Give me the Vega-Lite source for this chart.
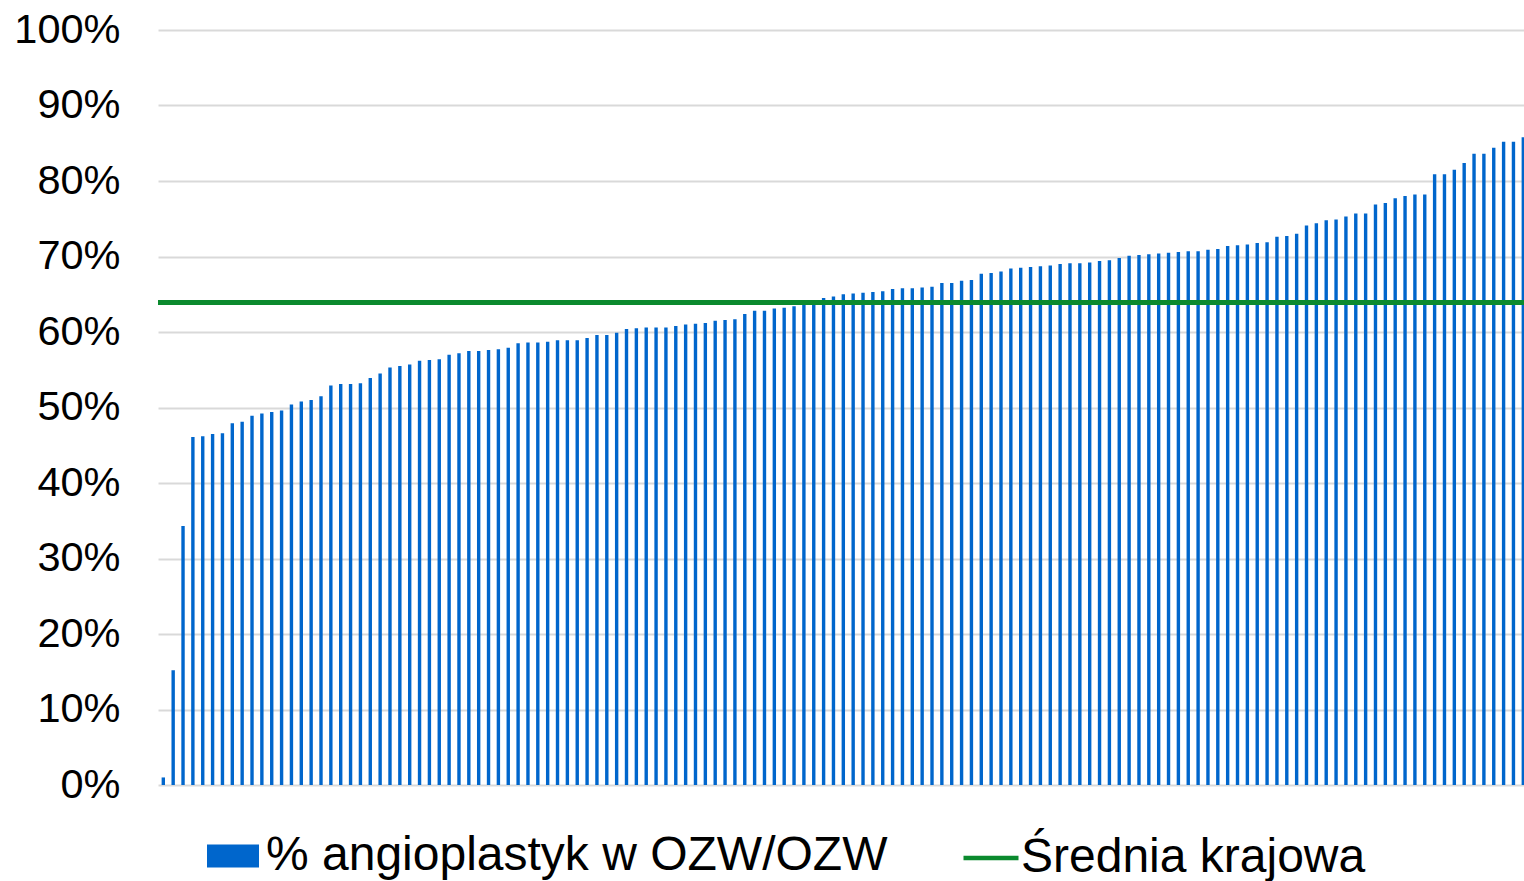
{
  "$schema": "https://vega.github.io/schema/vega-lite/v6.json",
  "width": 1366,
  "height": 755,
  "autosize": {"type": "none"},
  "padding": {"left": 158, "top": 30, "right": 0, "bottom": 96},
  "background": "white",
  "config": {
    "view": {"stroke": null},
    "font": "Liberation Sans"
  },
  "datasets": {
    "bars": [
      {"i":0,"v":0.010},{"i":1,"v":0.152},{"i":2,"v":0.343},{"i":3,"v":0.461},{"i":4,"v":0.462},{"i":5,"v":0.465},{"i":6,"v":0.466},{"i":7,"v":0.479},{"i":8,"v":0.481},{"i":9,"v":0.489},
      {"i":10,"v":0.492},{"i":11,"v":0.494},{"i":12,"v":0.496},{"i":13,"v":0.504},{"i":14,"v":0.508},{"i":15,"v":0.510},{"i":16,"v":0.515},{"i":17,"v":0.529},{"i":18,"v":0.531},{"i":19,"v":0.531},
      {"i":20,"v":0.532},{"i":21,"v":0.539},{"i":22,"v":0.545},{"i":23,"v":0.553},{"i":24,"v":0.555},{"i":25,"v":0.557},{"i":26,"v":0.562},{"i":27,"v":0.563},{"i":28,"v":0.564},{"i":29,"v":0.570},
      {"i":30,"v":0.572},{"i":31,"v":0.575},{"i":32,"v":0.575},{"i":33,"v":0.576},{"i":34,"v":0.577},{"i":35,"v":0.579},{"i":36,"v":0.585},{"i":37,"v":0.586},{"i":38,"v":0.586},{"i":39,"v":0.587},
      {"i":40,"v":0.589},{"i":41,"v":0.589},{"i":42,"v":0.589},{"i":43,"v":0.592},{"i":44,"v":0.596},{"i":45,"v":0.596},{"i":46,"v":0.599},{"i":47,"v":0.604},{"i":48,"v":0.605},{"i":49,"v":0.606},
      {"i":50,"v":0.606},{"i":51,"v":0.606},{"i":52,"v":0.608},{"i":53,"v":0.610},{"i":54,"v":0.611},{"i":55,"v":0.612},{"i":56,"v":0.615},{"i":57,"v":0.616},{"i":58,"v":0.617},{"i":59,"v":0.624},
      {"i":60,"v":0.628},{"i":61,"v":0.628},{"i":62,"v":0.631},{"i":63,"v":0.632},{"i":64,"v":0.634},{"i":65,"v":0.636},{"i":66,"v":0.640},{"i":67,"v":0.645},{"i":68,"v":0.647},{"i":69,"v":0.650},
      {"i":70,"v":0.651},{"i":71,"v":0.652},{"i":72,"v":0.653},{"i":73,"v":0.654},{"i":74,"v":0.657},{"i":75,"v":0.658},{"i":76,"v":0.658},{"i":77,"v":0.659},{"i":78,"v":0.660},{"i":79,"v":0.665},
      {"i":80,"v":0.665},{"i":81,"v":0.668},{"i":82,"v":0.669},{"i":83,"v":0.677},{"i":84,"v":0.678},{"i":85,"v":0.680},{"i":86,"v":0.684},{"i":87,"v":0.685},{"i":88,"v":0.686},{"i":89,"v":0.687},
      {"i":90,"v":0.688},{"i":91,"v":0.690},{"i":92,"v":0.691},{"i":93,"v":0.691},{"i":94,"v":0.692},{"i":95,"v":0.694},{"i":96,"v":0.695},{"i":97,"v":0.698},{"i":98,"v":0.701},{"i":99,"v":0.702},
      {"i":100,"v":0.703},{"i":101,"v":0.704},{"i":102,"v":0.705},{"i":103,"v":0.706},{"i":104,"v":0.707},{"i":105,"v":0.707},{"i":106,"v":0.709},{"i":107,"v":0.710},{"i":108,"v":0.714},{"i":109,"v":0.715},
      {"i":110,"v":0.716},{"i":111,"v":0.718},{"i":112,"v":0.719},{"i":113,"v":0.726},{"i":114,"v":0.727},{"i":115,"v":0.730},{"i":116,"v":0.741},{"i":117,"v":0.744},{"i":118,"v":0.748},{"i":119,"v":0.749},
      {"i":120,"v":0.753},{"i":121,"v":0.757},{"i":122,"v":0.757},{"i":123,"v":0.769},{"i":124,"v":0.771},{"i":125,"v":0.777},{"i":126,"v":0.780},{"i":127,"v":0.782},{"i":128,"v":0.782},{"i":129,"v":0.809},
      {"i":130,"v":0.809},{"i":131,"v":0.815},{"i":132,"v":0.824},{"i":133,"v":0.836},{"i":134,"v":0.836},{"i":135,"v":0.844},{"i":136,"v":0.852},{"i":137,"v":0.852},{"i":138,"v":0.858}
    ],
    "avg": [{"avg": 0.639}]
  },
  "layer": [
    {
      "data": {"name": "bars"},
      "mark": {"type": "bar", "orient": "vertical", "width": 3.4, "clip": true},
      "encoding": {
        "x": {"field": "i", "type": "quantitative", "axis": null,
              "scale": {"domain": [-0.54, 138.07], "nice": false, "zero": false, "padding": 0}},
        "y": {"field": "v", "type": "quantitative",
              "scale": {"domain": [0, 1], "nice": false},
              "axis": {"format": ".0%", "values": [0,0.1,0.2,0.3,0.4,0.5,0.6,0.7,0.8,0.9,1],
                       "title": null, "domain": false, "ticks": false,
                       "labelFontSize": 41.5, "labelColor": "#000000", "labelPadding": 38,
                       "labelFont": "Liberation Sans",
                       "grid": true, "gridColor": "#d9d9d9", "gridWidth": 2}},
        "fill": {"datum": "% angioplastyk w OZW/OZW", "type": "nominal",
                 "scale": {"range": ["#0066CC"]},
                 "legend": {"title": null, "orient": "none", "legendX": 49, "legendY": 800,
                            "symbolType": "M-1,-0.44H1V0.44H-1Z", "symbolSize": 2704,
                            "symbolStrokeWidth": 0, "labelFontSize": 48, "labelFont": "Liberation Sans",
                            "labelColor": "#000000", "labelOffset": 7, "padding": 0, "labelLimit": 1000}}
      }
    },
    {
      "data": {"name": "avg"},
      "mark": {"type": "rule", "strokeWidth": 5},
      "encoding": {
        "y": {"field": "avg", "type": "quantitative"},
        "stroke": {"datum": "Średnia krajowa", "type": "nominal",
                   "scale": {"range": ["#0B8A2E"]},
                   "legend": {"title": null, "orient": "none", "legendX": 803, "legendY": 798,
                              "symbolType": "stroke", "symbolSize": 3025, "symbolStrokeWidth": 4.5,
                              "labelFontSize": 48, "labelFont": "Liberation Sans",
                              "labelColor": "#000000", "labelOffset": 0, "padding": 0, "labelLimit": 1000}}
      }
    }
  ]
}
